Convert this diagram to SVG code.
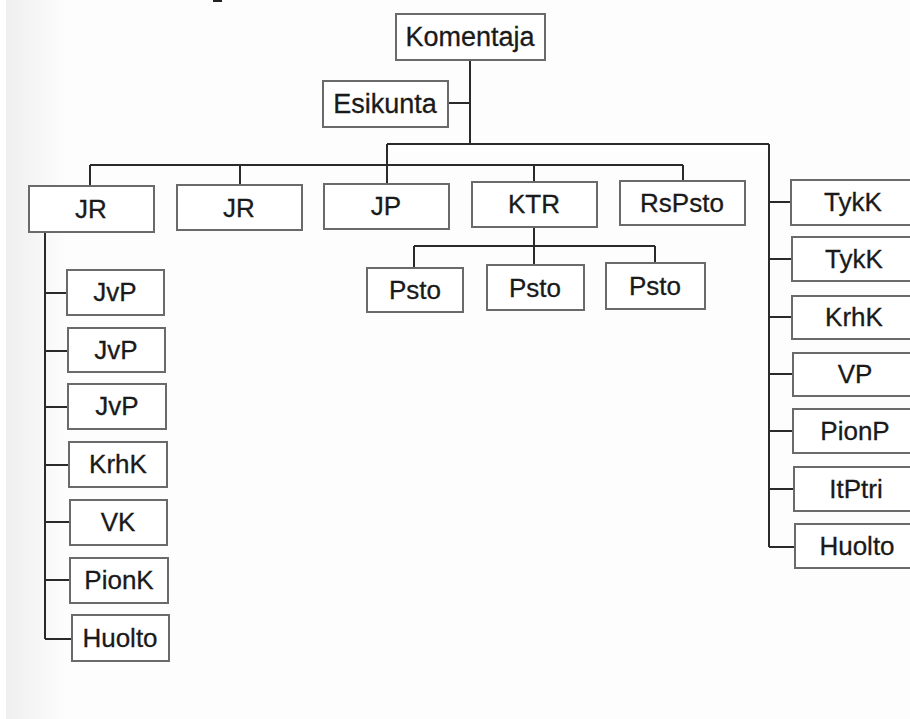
<svg xmlns="http://www.w3.org/2000/svg" width="910" height="719" viewBox="0 0 910 719">
<defs>
<linearGradient id="edge" x1="0" y1="0" x2="1" y2="0">
<stop offset="0" stop-color="#efefef"/>
<stop offset="1" stop-color="#fdfdfd"/>
</linearGradient>
<style>
.b{fill:#ffffff;stroke:#6a6a6a;stroke-width:2}
.t{font-family:"Liberation Sans",Arial,sans-serif;font-size:26px;fill:#1a1a1a;text-anchor:middle;stroke:#1a1a1a;stroke-width:0.3}
.c{fill:none;stroke:#2a2a2a;stroke-width:2}
</style>
</defs>
<rect x="0" y="0" width="910" height="719" fill="#fdfdfd"/>
<rect x="6" y="0" width="60" height="719" fill="url(#edge)"/>
<rect x="0" y="0" width="6" height="719" fill="#ffffff"/>
<rect x="213" y="0" width="9" height="2" fill="#222"/>
<g id="connectors">
<path class="c" d="M470 60V144M448 103H470M387 144H769M769 144V547"/>
<path class="c" d="M90 165H683M90 165V186M240 165V185M387 144V184M534 165V182M683 165V181"/>
<path class="c" d="M534 227V265M414 246H655M414 246V268M655 246V263"/>
<path class="c" d="M45 232V639M45 293H67M45 351H68M45 407H68M45 465H69M45 522H70M45 580H70M45 639H72"/>
<path class="c" d="M769 202H791M769 259H792M769 317H792M769 374H793M769 431H793M769 489H794M769 547H795"/>
</g>
<g id="n-komentaja"><rect class="b" x="396" y="14" width="149" height="46"/><text class="t" x="470" y="46" style="font-size:27px">Komentaja</text></g>
<g id="n-esikunta"><rect class="b" x="323" y="81" width="125" height="46"/><text class="t" x="385" y="113" style="font-size:27px">Esikunta</text></g>
<g id="n-jr1"><rect class="b" x="29" y="186" width="125" height="46"/><text class="t" x="91" y="218">JR</text></g>
<g id="n-jr2"><rect class="b" x="177" y="185" width="125" height="45"/><text class="t" x="239" y="217">JR</text></g>
<g id="n-jp"><rect class="b" x="324" y="184" width="125" height="45"/><text class="t" x="386" y="215">JP</text></g>
<g id="n-ktr"><rect class="b" x="472" y="182" width="125" height="45"/><text class="t" x="534" y="213">KTR</text></g>
<g id="n-rspsto"><rect class="b" x="620" y="181" width="125" height="44"/><text class="t" x="682" y="212">RsPsto</text></g>
<g id="n-psto1"><rect class="b" x="367" y="268" width="96" height="44"/><text class="t" x="415" y="299">Psto</text></g>
<g id="n-psto2"><rect class="b" x="487" y="265" width="97" height="45"/><text class="t" x="535" y="297">Psto</text></g>
<g id="n-psto3"><rect class="b" x="606" y="263" width="99" height="46"/><text class="t" x="655" y="295">Psto</text></g>
<g id="n-jvp1"><rect class="b" x="67" y="270" width="97" height="45"/><text class="t" x="115" y="301">JvP</text></g>
<g id="n-jvp2"><rect class="b" x="68" y="328" width="97" height="44"/><text class="t" x="116" y="359">JvP</text></g>
<g id="n-jvp3"><rect class="b" x="68" y="384" width="98" height="45"/><text class="t" x="117" y="415">JvP</text></g>
<g id="n-krhk1"><rect class="b" x="69" y="442" width="98" height="45"/><text class="t" x="118" y="473">KrhK</text></g>
<g id="n-vk"><rect class="b" x="70" y="500" width="97" height="45"/><text class="t" x="118" y="531">VK</text></g>
<g id="n-pionk"><rect class="b" x="70" y="558" width="98" height="45"/><text class="t" x="119" y="589">PionK</text></g>
<g id="n-huolto1"><rect class="b" x="72" y="615" width="97" height="46"/><text class="t" x="120" y="647">Huolto</text></g>
<g id="n-tykk1"><rect class="b" x="791" y="180" width="140" height="45"/><text class="t" x="853" y="211">TykK</text></g>
<g id="n-tykk2"><rect class="b" x="792" y="237" width="140" height="44"/><text class="t" x="854" y="268">TykK</text></g>
<g id="n-krhk2"><rect class="b" x="792" y="296" width="140" height="43"/><text class="t" x="854" y="326">KrhK</text></g>
<g id="n-vp"><rect class="b" x="793" y="353" width="140" height="43"/><text class="t" x="855" y="383">VP</text></g>
<g id="n-pionp"><rect class="b" x="793" y="409" width="140" height="44"/><text class="t" x="855" y="440">PionP</text></g>
<g id="n-itptri"><rect class="b" x="794" y="467" width="140" height="44"/><text class="t" x="856" y="498">ItPtri</text></g>
<g id="n-huolto2"><rect class="b" x="795" y="524" width="140" height="44"/><text class="t" x="857" y="555">Huolto</text></g>
</svg>
